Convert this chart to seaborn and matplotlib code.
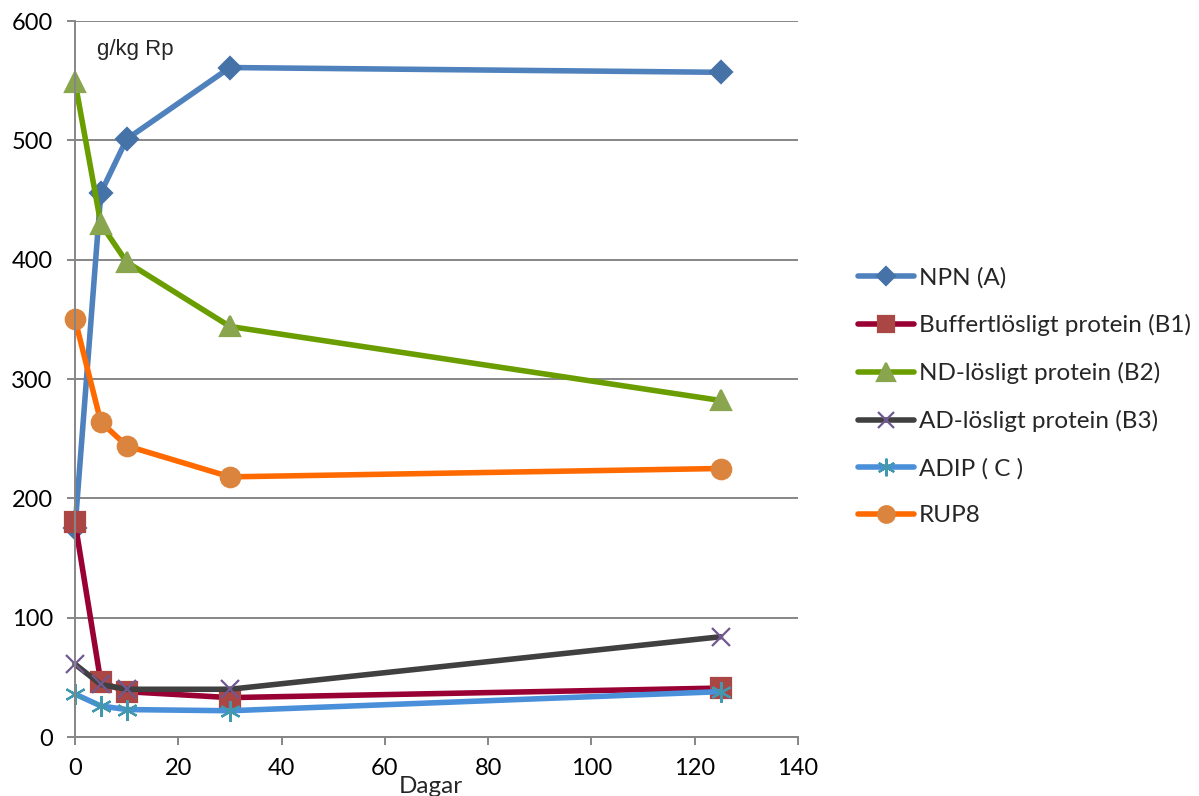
import matplotlib
matplotlib.use("Agg")
import matplotlib.pyplot as plt
import seaborn as sns
import pandas as pd

days = [0, 5, 10, 30, 125]
npn = [175, 456, 501, 561, 557]
b1 = [180, 46, 38, 33, 41]
b2 = [549, 430, 398, 344, 282]
b3 = [61, 44, 40, 40, 84]
adip = [36, 26, 23, 22, 38]
rup8 = [350, 264, 244, 218, 225]

labels = ["NPN (A)", "Buffertlösligt protein (B1)", "ND-lösligt protein (B2)",
          "AD-lösligt protein (B3)", "ADIP ( C )", "RUP8"]
series = [npn, b1, b2, b3, adip, rup8]

sns.set_theme(style="white")
plt.rcParams['font.family'] = ['Lato', 'DejaVu Sans']

styles = [
    dict(color="#4F81BD", marker="D", mfc="#4572A7", mec="#4572A7", ms=11),
    dict(color="#990033", marker="s", mfc="#AA4643", mec="#AA4643", ms=14),
    dict(color="#6A9E00", marker="^", mfc="#89A54E", mec="#89A54E", ms=15),
    dict(color="#404040", marker="x", mfc="#71588F", mec="#71588F", ms=13),
    dict(color="#4A8FDA", marker=(6, 2, 0), mfc="#4198AF", mec="#4198AF", ms=15),
    dict(color="#FF6A00", marker="o", mfc="#DB843D", mec="#DB843D", ms=14),
]

fig = plt.figure(figsize=(11.99, 7.96), dpi=100)
ax = fig.add_axes([75/1199, 1-737/796, (798-75)/1199, (737-21)/796])

for lab, vals, st in zip(labels, series, styles):
    df = pd.DataFrame({"Dagar": days, "v": vals})
    sns.lineplot(data=df, x="Dagar", y="v", ax=ax, color=st["color"], lw=4.0,
                 marker=st["marker"], markersize=st["ms"],
                 markerfacecolor=st["mfc"], markeredgecolor=st["mec"],
                 markeredgewidth=1.6, label=lab, clip_on=False)

ax.set_xlim(0, 140)
ax.set_ylim(0, 600)
ax.set_xticks(range(0, 141, 20))
ax.set_yticks(range(0, 601, 100))
ax.grid(axis="y", color="#868686", lw=1.4)
ax.grid(axis="x", visible=False)
for s in ["top", "right"]:
    ax.spines[s].set_visible(False)
for s in ["left", "bottom"]:
    ax.spines[s].set_color("#868686")
    ax.spines[s].set_linewidth(1.4)
ax.tick_params(axis="both", which="both", length=6, width=1.4, color="#868686",
               labelsize=17, labelcolor="black", bottom=True, left=True)
ax.tick_params(axis="y", pad=10)
ax.tick_params(axis="x", pad=9)
ax.set_xlabel("")
ax.set_ylabel("")
ax.set_axisbelow(True)
ax.text(431/1199, 1-793/796, "Dagar", transform=fig.transFigure, fontsize=17.5,
        ha="center", va="baseline")
ax.text(97/1199, 1-50/796, "g/kg Rp", transform=fig.transFigure, fontsize=16,
        family=["Liberation Sans"], ha="left", va="center")

leg = ax.legend(loc="upper left", bbox_to_anchor=(858/1199, 1-267/796),
                bbox_transform=fig.transFigure, frameon=False, fontsize=17.5,
                handlelength=2.3, handletextpad=0.2, labelspacing=1.06,
                borderaxespad=0, borderpad=0)
for h in leg.legend_handles:
    h.set_markersize(h.get_markersize() * 0.85)

fig.savefig("out.png", dpi=100)
